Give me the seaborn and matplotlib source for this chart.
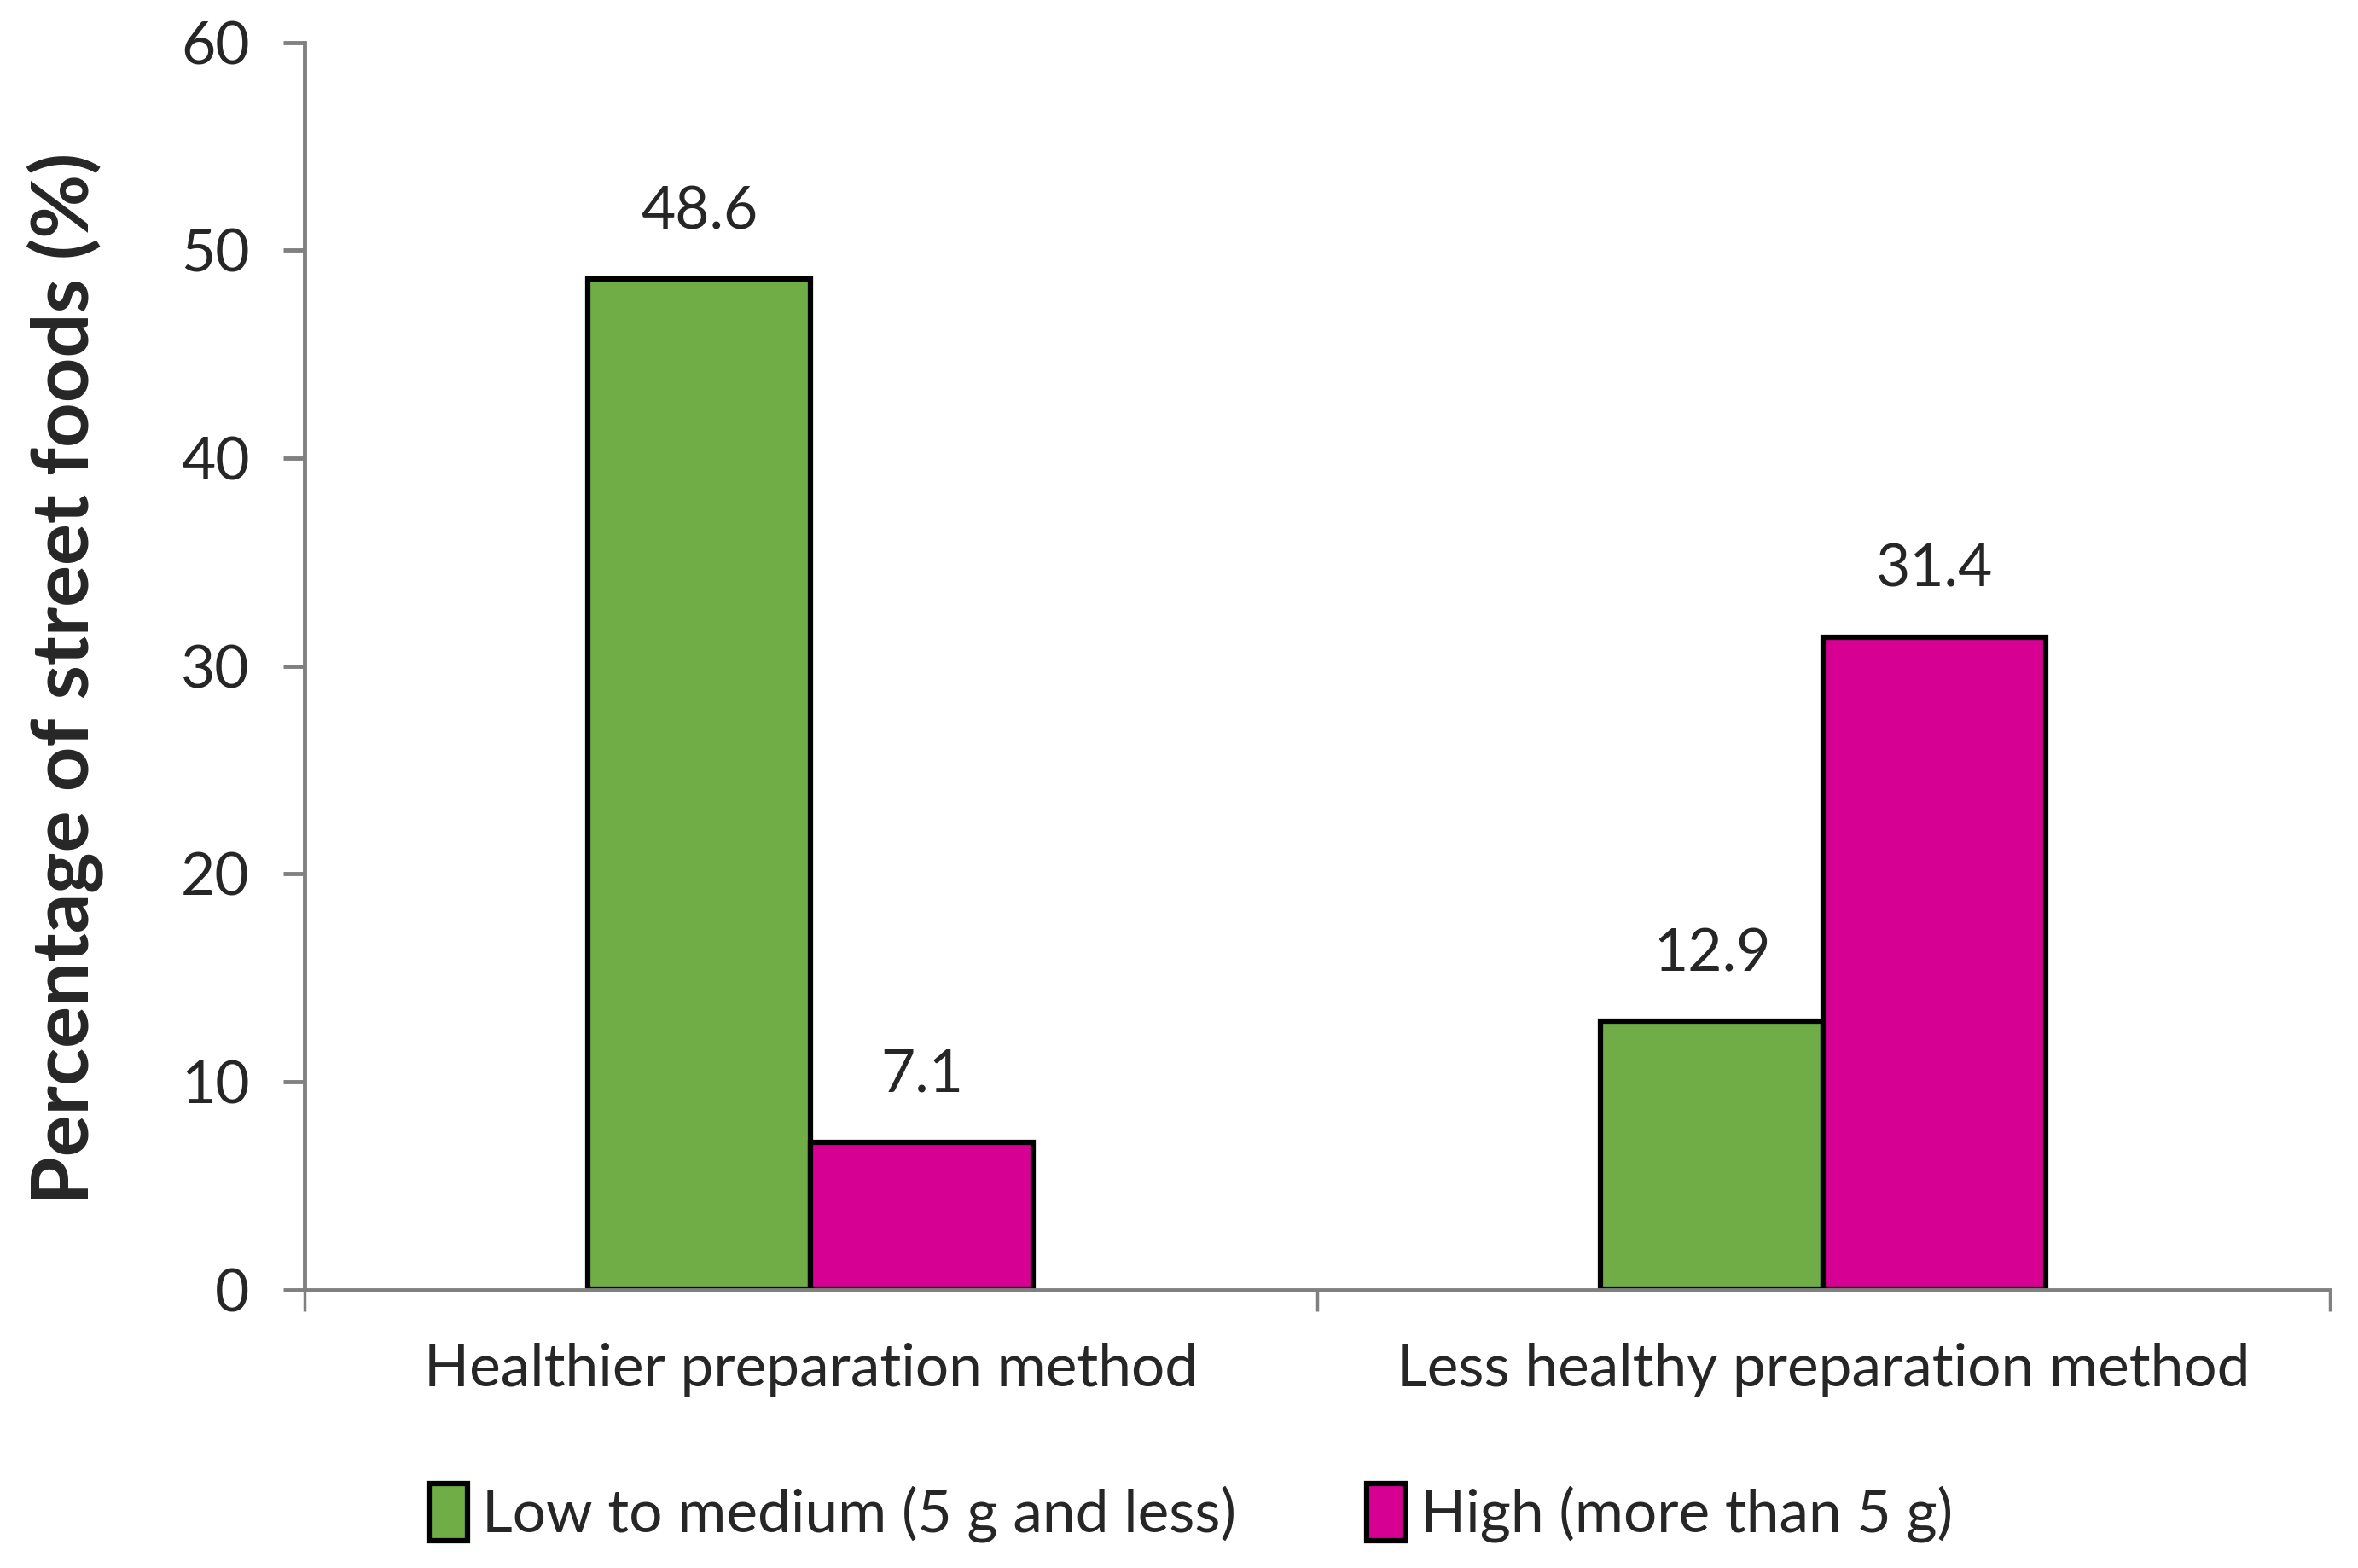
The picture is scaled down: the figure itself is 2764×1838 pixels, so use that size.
import pandas as pd
import matplotlib
matplotlib.use("Agg")
import matplotlib.pyplot as plt
from matplotlib.patches import Patch
import seaborn as sns

# chart data
methods = ["Healthier preparation method", "Less healthy preparation method"]
salt_levels = ["Low to medium (5 g and less)", "High (more than 5 g)"]
low_medium = [48.6, 12.9]
high = [7.1, 31.4]
y_ticks = [0, 10, 20, 30, 40, 50, 60]

colors = ["#70AD47", "#D60093"]
axis_grey = "#808080"

df = pd.DataFrame({
    "method": methods * 2,
    "salt": [salt_levels[0]] * 2 + [salt_levels[1]] * 2,
    "pct": low_medium + high,
})

sns.set_style("white")
plt.rcParams["font.family"] = ["Lato", "DejaVu Sans"]

fig = plt.figure(figsize=(27.64, 18.38), dpi=100)
ax = fig.add_axes([0.129, 0.1775, 0.859, 0.7955])

sns.barplot(data=df, x="method", y="pct", hue="salt", hue_order=salt_levels,
            order=methods, palette=colors, width=0.44, gap=0,
            edgecolor="black", linewidth=4.5, saturation=1, legend=False, ax=ax)

for cont in ax.containers:
    ax.bar_label(cont, fmt="%.1f", padding=34, fontsize=50)

ax.set_xlim(-0.5, 1.5)
ax.set_ylim(0, 60)
ax.set_yticks(y_ticks)
ax.set_xlabel("")
ax.set_ylabel("Percentage of street foods (%)", fontsize=66, fontweight="bold")
ax.yaxis.set_label_coords(-0.099, 0.49)

for side in ["top", "right"]:
    ax.spines[side].set_visible(False)
for side in ["left", "bottom"]:
    ax.spines[side].set_color(axis_grey)
    ax.spines[side].set_linewidth(3.5)

ax.tick_params(axis="y", which="major", direction="out", length=18, width=3.5,
               color=axis_grey, labelsize=50, pad=28, left=True)
ax.tick_params(axis="x", which="major", length=0, labelsize=50, pad=45)
ax.set_xticks([-0.5, 0.5, 1.5], minor=True)
ax.tick_params(axis="x", which="minor", direction="out", length=18, width=2.5,
               color=axis_grey, bottom=True)

handles = [Patch(facecolor=c, edgecolor="black", linewidth=4.5) for c in colors]
fig.legend(handles, salt_levels, loc="center", bbox_to_anchor=(0.505, 0.035),
           ncol=2, frameon=False, fontsize=50, handlelength=0.65, handleheight=1.1,
           handletextpad=0.25, columnspacing=2.2)

fig.savefig("out.png", dpi=100)
